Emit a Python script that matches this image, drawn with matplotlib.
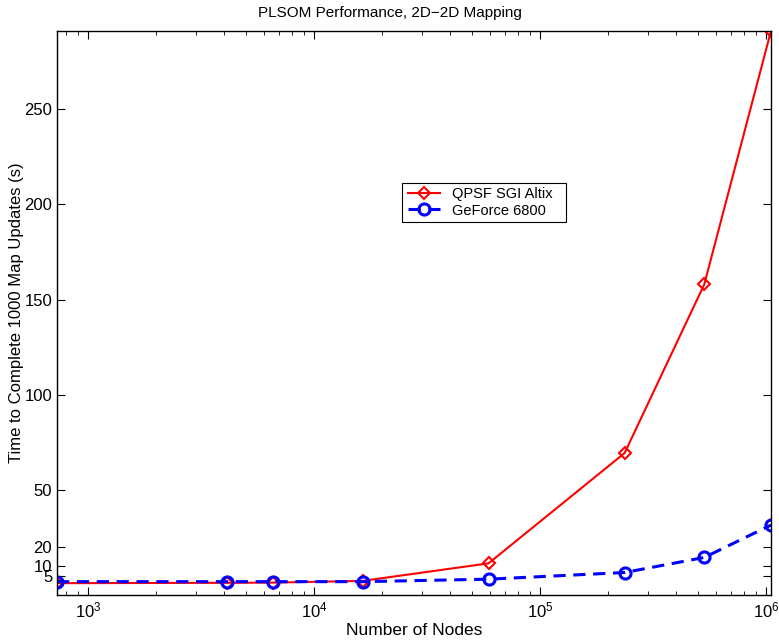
import matplotlib
matplotlib.use("Agg")
import matplotlib.pyplot as plt
from matplotlib.patches import Rectangle
from matplotlib.ticker import LogLocator, FixedLocator, NullLocator

plt.rcParams['font.family'] = ['Liberation Sans', 'DejaVu Sans']
plt.rcParams['mathtext.fontset'] = 'custom'
plt.rcParams['mathtext.rm'] = 'Liberation Sans'
plt.rcParams['mathtext.it'] = 'Liberation Sans:italic'
plt.rcParams['font.size'] = 12

nodes = [729, 4096, 6561, 16384, 59049, 236196, 531441, 1048576]
qpsf_altix = [1.2, 1.4, 1.5, 2.4, 11.6, 69.5, 158, 291]
geforce_6800 = [2.0, 2.0, 2.0, 2.0, 3.3, 6.8, 14.7, 31.7]
yticks = [5, 10, 20, 50, 100, 150, 200, 250]

W, H = 779, 644
fig = plt.figure(figsize=(7.79, 6.44), dpi=100)
ax = fig.add_axes([0.0732, 0.0761, 0.9897 - 0.0732, 0.9519 - 0.0761])

ax.plot(nodes, qpsf_altix, color='red', lw=1.5, marker='D', markersize=6,
        markerfacecolor='none', markeredgecolor='red', markeredgewidth=1.5,
        label='QPSF SGI Altix')
ax.plot(nodes, geforce_6800, color='blue', lw=2.2, dashes=(4, 2.5), marker='o',
        markersize=8, markerfacecolor='none', markeredgecolor='blue',
        markeredgewidth=2.2, label='GeForce 6800')

ax.set_xscale('log')
ax.set_xlim(729, 1048576)
ax.set_ylim(-5, 291)
ax.yaxis.set_major_locator(FixedLocator(yticks))
ax.yaxis.set_minor_locator(NullLocator())
ax.xaxis.set_minor_locator(LogLocator(base=10, subs=range(2, 10)))

ax.tick_params(which='both', direction='in', top=True, right=True, labelsize=12)
ax.tick_params(which='major', length=6, width=0.8)
ax.tick_params(which='minor', length=3, width=0.6)
ax.tick_params(axis='x', which='major', pad=4)
for s in ax.spines.values():
    s.set_linewidth(1.0)

fig.text(0.5, 1 - 13 / H, 'PLSOM Performance, 2D\u22122D Mapping', fontsize=11,
         ha='center', va='center')
ax.set_xlabel('Number of Nodes', fontsize=12.5, labelpad=2)
ax.set_ylabel('Time to Complete 1000 Map Updates (s)', fontsize=12, labelpad=0)

# legend frame (MATLAB-style box with extra right padding)
frame = Rectangle((402 / W, 1 - 222 / H), (566 - 402) / W, (222 - 183) / H,
                  transform=fig.transFigure, facecolor='white', edgecolor='black',
                  linewidth=0.8, zorder=4.5)
ax.add_artist(frame)
leg = ax.legend(loc='center left', bbox_to_anchor=(404 / W, 1 - 202.5 / H),
                bbox_transform=fig.transFigure, frameon=False,
                borderpad=0.3, handlelength=2.2, handletextpad=0.8,
                labelspacing=0.15, borderaxespad=0, fontsize=10.5)
leg.set_zorder(5)

fig.savefig('out.png', dpi=100)
